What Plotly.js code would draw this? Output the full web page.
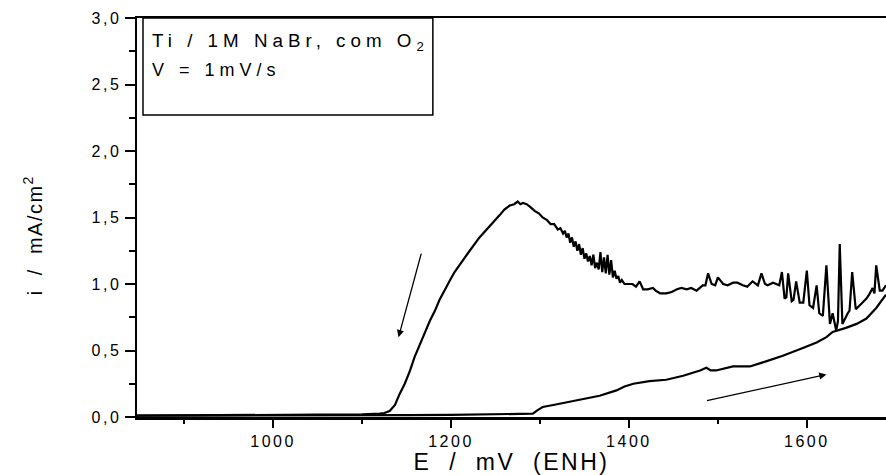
<!DOCTYPE html>
<html>
<head>
<meta charset="utf-8">
<script src="https://cdn.plot.ly/plotly-3.0.1.min.js"></script>
<style>
  html, body { margin: 0; padding: 0; background: #fff; }
  #chart { width: 886px; height: 475px; }
  .xtick text, .ytick text { letter-spacing: 2.5px; }
  .annotation-text { letter-spacing: 5px; }
  .annotation[data-index="0"] .annotation-text { letter-spacing: 1.5px; }
  .xtitle { letter-spacing: 2.5px; }
</style>
</head>
<body>
<div id="chart"></div>
<script>
// Forward (anodic) scan: potential (mV ENH) and current density (mA/cm2)
const fwdE = [847, 900, 950, 1000, 1050, 1100, 1150, 1200, 1230, 1255,
              1275, 1292, 1297, 1303, 1315, 1330, 1348, 1367, 1386, 1395,
              1405, 1423, 1442, 1461, 1480, 1487, 1492, 1498, 1517, 1536,
              1555, 1573, 1592, 1611, 1622, 1629, 1644, 1656, 1667, 1678,
              1689];
const fwdI = [0.010, 0.010, 0.012, 0.012, 0.013, 0.013, 0.014, 0.016, 0.018, 0.020,
              0.022, 0.025, 0.050, 0.075, 0.090, 0.110, 0.130, 0.160, 0.200, 0.230,
              0.250, 0.270, 0.280, 0.310, 0.350, 0.370, 0.350, 0.350, 0.380, 0.380,
              0.420, 0.460, 0.510, 0.560, 0.600, 0.640, 0.670, 0.700, 0.740, 0.820,
              0.920];

// Reverse (cathodic) scan, high-potential noisy part (1689 -> 1398 mV)
const revHighE = [1689, 1685, 1682, 1678, 1676, 1674, 1670, 1667, 1661, 1655,
                  1651, 1648, 1646, 1643, 1640, 1637, 1635, 1633, 1629, 1626,
                  1622, 1618, 1614, 1611, 1607, 1603, 1600, 1596, 1592, 1588,
                  1585, 1583, 1579, 1577, 1575, 1572, 1569, 1562, 1556, 1553,
                  1549, 1545, 1539, 1533, 1528, 1522, 1517, 1511, 1506, 1500,
                  1497, 1493, 1489, 1486, 1483, 1476, 1470, 1465, 1459, 1454,
                  1448, 1442, 1435, 1430, 1427, 1421, 1416, 1412, 1408, 1404,
                  1398];
const revHighI = [0.99, 0.95, 0.95, 1.14, 0.93, 0.97, 0.92, 0.89, 0.85, 0.81,
                  1.09, 0.80, 0.78, 0.74, 0.70, 1.30, 0.72, 0.65, 0.78, 0.70,
                  1.14, 0.76, 0.78, 0.99, 0.82, 0.84, 1.10, 0.86, 0.86, 1.02,
                  0.88, 0.87, 1.08, 0.90, 0.89, 1.09, 0.99, 1.01, 0.99, 1.00,
                  1.08, 0.99, 1.02, 0.98, 0.99, 1.01, 1.01, 0.99, 1.00, 1.05,
                  0.99, 1.00, 1.08, 0.99, 0.99, 0.95, 0.97, 0.96, 0.97, 0.96,
                  0.94, 0.93, 0.93, 0.95, 0.97, 0.96, 0.96, 1.02, 0.98, 1.00,
                  1.00];

// Reverse scan, oscillating band after the peak (1395 -> 1299 mV)
const revMidE = [1395, 1392, 1390, 1388, 1386, 1384, 1382, 1380, 1378, 1376,
                 1374, 1372, 1370, 1368, 1366, 1364, 1362, 1360, 1358, 1356,
                 1354, 1352, 1350, 1348, 1346, 1344, 1342, 1340, 1338, 1336,
                 1334, 1332, 1330, 1328, 1326, 1323, 1320, 1316, 1312, 1308,
                 1303, 1299];
const revMidI = [1.00, 1.03, 1.01, 1.06, 1.04, 1.10, 1.05, 1.18, 1.07, 1.22,
                 1.08, 1.20, 1.09, 1.24, 1.11, 1.16, 1.12, 1.22, 1.14, 1.21,
                 1.17, 1.23, 1.19, 1.27, 1.22, 1.30, 1.25, 1.32, 1.28, 1.35,
                 1.31, 1.38, 1.35, 1.40, 1.38, 1.42, 1.41, 1.45, 1.45, 1.48,
                 1.50, 1.53];

// Reverse scan, peak and fall to zero (1294 -> 847 mV)
const revLowE = [1294, 1289, 1285, 1281, 1278, 1275, 1271, 1266, 1260, 1255,
                 1244, 1232, 1221, 1210, 1204, 1199, 1193, 1187, 1182, 1176,
                 1171, 1165, 1159, 1154, 1148, 1142, 1137, 1131, 1125, 1120,
                 1110, 1100, 1050, 1000, 950, 900, 847];
const revLowI = [1.55, 1.58, 1.60, 1.61, 1.60, 1.62, 1.60, 1.59, 1.56, 1.52,
                 1.44, 1.35, 1.25, 1.15, 1.09, 1.03, 0.96, 0.88, 0.80, 0.72,
                 0.64, 0.54, 0.45, 0.35, 0.25, 0.17, 0.09, 0.045, 0.030, 0.025,
                 0.022, 0.020, 0.018, 0.015, 0.013, 0.012, 0.010];

// Axis ticks
const xTickVals = [1000, 1200, 1400, 1600];
const xTickText = ['1000', '1200', '1400', '1600'];
const xMinorVals = [900, 1100, 1300, 1500];
const yTickVals = [0, 0.5, 1.0, 1.5, 2.0, 2.5, 3.0];
const yTickText = ['0,0', '0,5', '1,0', '1,5', '2,0', '2,5', '3,0'];
const yMinorVals = [0.25, 0.75, 1.25, 1.75, 2.25, 2.75];

// Direction arrows: [tailE, tailI, headE, headI]
const arrowDown = [1167, 1.24, 1141, 0.60];
const arrowUp = [1486, 0.12, 1622, 0.32];

const NB = '\u00a0';
const FONT = 'Liberation Sans, Arial, sans-serif';

const revE = revHighE.concat(revMidE, revLowE);
const revI = revHighI.concat(revMidI, revLowI);

const traces = [
  { x: fwdE, y: fwdI, type: 'scatter', mode: 'lines',
    line: { color: '#000', width: 2.2 }, hoverinfo: 'skip', showlegend: false },
  { x: revE, y: revI, type: 'scatter', mode: 'lines',
    line: { color: '#000', width: 2.2 }, hoverinfo: 'skip', showlegend: false }
];

const layout = {
  width: 886, height: 475,
  margin: { l: 137, r: 0, t: 18, b: 58 },
  paper_bgcolor: '#fff', plot_bgcolor: '#fff',
  font: { family: FONT, color: '#000' },
  showlegend: false,
  xaxis: {
    range: [847, 1689],
    showgrid: false, zeroline: false,
    showline: true, linecolor: '#000', linewidth: 2.5, mirror: true,
    ticks: 'outside', ticklen: 8, tickwidth: 2, tickcolor: '#000',
    tickmode: 'array', tickvals: xTickVals, ticktext: xTickText,
    tickfont: { family: FONT, size: 16, color: '#000' },
    minor: { tickmode: 'array', tickvals: xMinorVals, ticks: 'outside', ticklen: 4, tickwidth: 2, tickcolor: '#000' },
    title: { text: 'E' + NB + NB + '/' + NB + NB + 'mV' + NB + NB + '(ENH)', font: { family: FONT, size: 23, color: '#000' }, standoff: 0 }
  },
  yaxis: {
    range: [0, 3],
    showgrid: false, zeroline: false,
    showline: true, linecolor: '#000', linewidth: 2.5,
    ticks: 'outside', ticklen: 10, tickwidth: 2, tickcolor: '#000',
    tickmode: 'array', tickvals: yTickVals, ticktext: yTickText,
    tickfont: { family: FONT, size: 16, color: '#000' },
    minor: { tickmode: 'array', tickvals: yMinorVals, ticks: 'outside', ticklen: 6, tickwidth: 2, tickcolor: '#000' }
  },
  shapes: [
    { type: 'rect', xref: 'paper', yref: 'paper', x0: 0.008, x1: 0.395, y0: 0.757, y1: 1.0,
      line: { color: '#000', width: 1.5 }, fillcolor: 'rgba(0,0,0,0)' }
  ],
  annotations: [
    { xref: 'paper', yref: 'paper', x: -0.139, y: 0.455, xanchor: 'center', yanchor: 'middle', textangle: -90,
      text: 'i' + NB + NB + '/' + NB + NB + 'mA/cm<sup>2</sup>',
      showarrow: false, font: { family: FONT, size: 20, color: '#000' } },
    { xref: 'paper', yref: 'paper', x: 0.017, y: 0.939, xanchor: 'left', yanchor: 'middle',
      text: 'Ti' + NB + '/' + NB + '1M' + NB + 'NaBr,' + NB + 'com' + NB + 'O<sub>2</sub>',
      showarrow: false, font: { family: FONT, size: 18.8, color: '#000' } },
    { xref: 'paper', yref: 'paper', x: 0.017, y: 0.870, xanchor: 'left', yanchor: 'middle',
      text: 'V' + NB + '=' + NB + '1mV/s',
      showarrow: false, font: { family: FONT, size: 18, color: '#000' } },
    { xref: 'x', yref: 'y', axref: 'x', ayref: 'y',
      x: arrowDown[2], y: arrowDown[3], ax: arrowDown[0], ay: arrowDown[1],
      text: '', showarrow: true, arrowhead: 2, arrowsize: 1.1, arrowwidth: 1.3, arrowcolor: '#000' },
    { xref: 'x', yref: 'y', axref: 'x', ayref: 'y',
      x: arrowUp[2], y: arrowUp[3], ax: arrowUp[0], ay: arrowUp[1],
      text: '', showarrow: true, arrowhead: 2, arrowsize: 1.1, arrowwidth: 1.3, arrowcolor: '#000' }
  ]
};

Plotly.newPlot('chart', traces, layout, { displayModeBar: false, staticPlot: true });
</script>
</body>
</html>
